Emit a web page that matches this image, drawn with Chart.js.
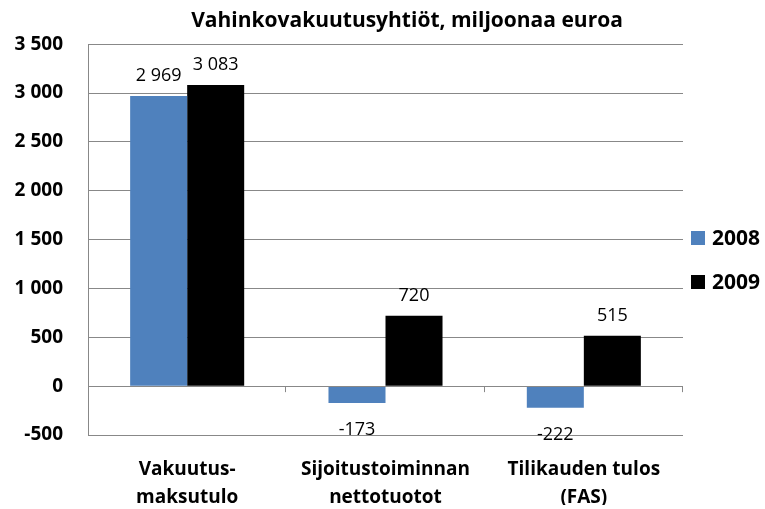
<!DOCTYPE html>
<html><head><meta charset="utf-8">
<script src="https://cdn.jsdelivr.net/npm/chart.js@4/dist/chart.umd.min.js"></script>
<style>html,body{margin:0;padding:0;background:#fff}#w{width:765px;height:509px}</style>
</head><body><div id="w"><canvas id="c"></canvas></div>
<script>
const categories = [["Vakuutus-","maksutulo"],["Sijoitustoiminnan","nettotuotot"],["Tilikauden tulos","(FAS)"]];
const series2008 = [2969, -173, -222];
const series2009 = [3083, 720, 515];
const seriesNames = ["2008","2009"];
const seriesColors = ["#4f81bd","#000000"];
const labels2008 = ["2 969","-173","-222"];
const labels2009 = ["3 083","720","515"];
const FONT = "'Open Sans', sans-serif";

function fmt(v){ const s=Math.abs(v).toString(); const t=s.replace(/\B(?=(\d{3})+(?!\d))/g,' '); return (v<0?'-':'')+t; }

const extras = {
  id:'extras',
  afterLayout(chart){
    if(chart.titleBlock){ chart.titleBlock.left=49; chart.titleBlock.right=765; chart.titleBlock.width=716; }
  },
  afterDatasetsDraw(chart){
    const ctx=chart.ctx, x=chart.scales.x, y=chart.scales.y;
    const y0=y.getPixelForValue(0);
    ctx.save();
    ctx.strokeStyle='#888888'; ctx.lineWidth=1;
    ctx.beginPath(); ctx.moveTo(x.left,Math.round(y0)+0.5); ctx.lineTo(x.right,Math.round(y0)+0.5); ctx.stroke();
    const n=categories.length, w=(x.right-x.left)/n;
    for(let i=1;i<=n;i++){ const px=Math.round(x.left+i*w)-0.5; ctx.beginPath(); ctx.moveTo(px,y0); ctx.lineTo(px,y0+6); ctx.stroke(); }
    ctx.fillStyle='#000'; ctx.font='18px '+FONT; ctx.textAlign='center'; ctx.textBaseline='middle';
    const lbls=[labels2008,labels2009];
    chart.data.datasets.forEach((ds,di)=>{
      const meta=chart.getDatasetMeta(di);
      meta.data.forEach((bar,i)=>{
        const v=ds.data[i];
        const py = v>=0 ? bar.y-20 : bar.y+27;
        ctx.fillText(lbls[di][i], bar.x, py);
      });
    });
    // legend
    ctx.font='bold 21px '+FONT; ctx.textAlign='left'; ctx.textBaseline='middle';
    const bx = chart.chartArea.right + 8;
    seriesNames.forEach((nm,i)=>{
      const cy = 238 + i*44;
      ctx.fillStyle=seriesColors[i]; ctx.fillRect(bx, cy-7, 14, 14);
      ctx.fillStyle='#000'; ctx.fillText(nm, bx+21, cy+1);
    });
    ctx.restore();
  }
};

new Chart(document.getElementById('c'),{
  type:'bar',
  data:{labels:categories,datasets:[
    {label:seriesNames[0],data:series2008,backgroundColor:seriesColors[0],barPercentage:1,categoryPercentage:0.575},
    {label:seriesNames[1],data:series2009,backgroundColor:seriesColors[1],barPercentage:1,categoryPercentage:0.575}
  ]},
  options:{
    responsive:true,maintainAspectRatio:false,animation:false,
    layout:{padding:{left:4,right:82,top:0,bottom:4}},
    plugins:{
      title:{display:true,text:'Vahinkovakuutusyhtiöt, miljoonaa euroa',color:'#000',font:{family:FONT,size:21,weight:'bold'},padding:{top:8,bottom:11}},
      legend:{display:false},
      tooltip:{enabled:false}
    },
    scales:{
      y:{min:-500,max:3500,afterFit:s=>{s.width=84;},
         ticks:{stepSize:500,color:'#000',font:{family:FONT,size:19,weight:'bold'},padding:25,callback:v=>fmt(v)},
         grid:{color:'#888888',drawTicks:false},border:{color:'#888888'}},
      x:{afterFit:s=>{s.height=70;},grid:{display:false,drawTicks:false},border:{display:false},
         ticks:{color:'#000',font:{family:FONT,size:19,weight:'bold',lineHeight:1.45},padding:21,maxRotation:0,autoSkip:false}}
    }
  },
  plugins:[extras]
});
</script></body></html>
